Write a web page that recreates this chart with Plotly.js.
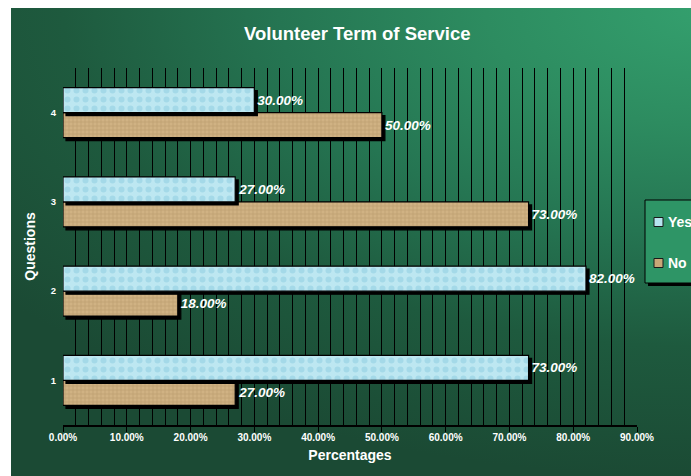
<!DOCTYPE html>
<html>
<head>
<meta charset="utf-8">
<script src="https://cdn.plot.ly/plotly-3.0.1.min.js"></script>
<style>
  html, body { margin: 0; padding: 0; background: #ffffff; }
  #wrap { position: relative; width: 691px; height: 476px; overflow: hidden; }
  #bg {
    position: absolute; left: 11px; top: 8px; width: 700px; height: 470px;
    background: radial-gradient(ellipse 900px 470px at 100% 0%, #34a06e 0%, #2d8c60 25%, #257552 48%, #1e5a3e 72%, #1b4a34 100%);
  }
  #chart { position: absolute; left: 0; top: 0; width: 691px; height: 476px; }
  .barlayer .point path { filter: drop-shadow(3px 3px 0px #000); }
</style>
</head>
<body>
<div id="wrap">
  <div id="bg"></div>
  <div id="chart"></div>
</div>
<script>
const questions = ['1', '2', '3', '4'];
const yesValues = [0.73, 0.82, 0.27, 0.30];
const noValues = [0.27, 0.18, 0.73, 0.50];
const xTicks = [0, 0.1, 0.2, 0.3, 0.4, 0.5, 0.6, 0.7, 0.8, 0.9];
const seriesNames = ['Yes', 'No'];
const seriesColors = ['#b6e4ef', '#c8a777'];

const font = 'Liberation Sans, Arial, sans-serif';
const labelFont = { family: font, size: 13.5, color: '#ffffff', weight: 'bold', style: 'italic' };

const noTrace = {
  type: 'bar', orientation: 'h', name: seriesNames[1],
  x: noValues, y: questions, showlegend: false,
  marker: {
    color: seriesColors[1],
    line: { color: '#000000', width: 1.2 },
    pattern: { shape: '+', fillmode: 'overlay', fgcolor: '#9c7f52', bgcolor: '#d0b283', size: 4, solidity: 0.25 }
  },
  text: noValues, texttemplate: '%{x:.2%}', textposition: 'outside',
  textfont: labelFont, constraintext: 'none', cliponaxis: false,
  hoverinfo: 'skip'
};
const yesTrace = {
  type: 'bar', orientation: 'h', name: seriesNames[0],
  x: yesValues, y: questions, showlegend: false,
  marker: {
    color: seriesColors[0],
    line: { color: '#000000', width: 1.2 },
    pattern: { shape: '.', fillmode: 'overlay', fgcolor: '#8ccbe0', bgcolor: '#bde7f1', size: 9, solidity: 0.35 }
  },
  text: yesValues, texttemplate: '%{x:.2%}', textposition: 'outside',
  textfont: labelFont, constraintext: 'none', cliponaxis: false,
  hoverinfo: 'skip'
};

// Custom legend (pixel -> paper conversion for plot area 63..637 x 68..425)
const PL = 63, PR = 637, PT = 68, PB = 425;
const px = v => (v - PL) / (PR - PL);
const py = v => (PB - v) / (PB - PT);
const shapes = [
  { type: 'rect', xref: 'paper', yref: 'paper', x0: px(648), x1: px(710), y0: py(203), y1: py(286),
    fillcolor: '#000000', line: { width: 0 }, layer: 'above' },
  { type: 'rect', xref: 'paper', yref: 'paper', x0: px(645), x1: px(707), y0: py(200), y1: py(283),
    fillcolor: '#2e9566', line: { color: '#000000', width: 1 }, layer: 'above' }
];
const annotations = [];
const itemY = [222, 263];
seriesNames.forEach((name, i) => {
  shapes.push({ type: 'rect', xref: 'paper', yref: 'paper',
    x0: px(654), x1: px(663), y0: py(itemY[i] - 4.5), y1: py(itemY[i] + 4.5),
    fillcolor: seriesColors[i], line: { color: '#1a1a1a', width: 1 }, layer: 'above' });
  annotations.push({ xref: 'paper', yref: 'paper', x: px(666), y: py(itemY[i]),
    xanchor: 'left', yanchor: 'middle', showarrow: false, text: name,
    font: { family: font, size: 14, color: '#ffffff', weight: 'bold' } });
});

const layout = {
  width: 691, height: 476,
  paper_bgcolor: 'rgba(0,0,0,0)', plot_bgcolor: 'rgba(0,0,0,0)',
  margin: { l: 63, r: 54, t: 68, b: 51 },
  barmode: 'group', bargap: 0.44, bargroupgap: 0,
  showlegend: false,
  shapes: shapes,
  annotations: annotations,
  title: {
    text: 'Volunteer Term of Service', xref: 'container', x: 0.517, xanchor: 'center',
    yref: 'container', y: 0.93, yanchor: 'middle',
    font: { family: font, size: 18.5, color: '#ffffff', weight: 'bold' }
  },
  xaxis: {
    range: [0, 0.9], tickvals: xTicks, tickformat: '.2%',
    showgrid: true, gridcolor: '#000000', gridwidth: 1,
    minor: { dtick: 0.02, showgrid: true, gridcolor: '#000000', gridwidth: 1 },
    ticks: 'outside', ticklen: 5, tickcolor: '#000000', tickwidth: 1,
    ticklabelstandoff: -3,
    showline: true, linecolor: '#000000', linewidth: 1.5,
    zeroline: false, automargin: false,
    tickfont: { family: font, size: 10, color: '#ffffff', weight: 'bold' },
    title: { text: 'Percentages', standoff: 8, font: { family: font, size: 14, color: '#ffffff', weight: 'bold' } },
    fixedrange: true
  },
  yaxis: {
    range: [-0.5, 3.5], type: 'category',
    showgrid: false, zeroline: false, showline: false, ticks: '',
    ticklabelstandoff: 6, automargin: false,
    tickfont: { family: font, size: 9.5, color: '#ffffff', weight: 'bold' },
    title: { text: 'Questions', standoff: 11, font: { family: font, size: 14, color: '#ffffff', weight: 'bold' } },
    fixedrange: true
  }
};

Plotly.newPlot('chart', [noTrace, yesTrace], layout, { displayModeBar: false, staticPlot: true });
</script>
</body>
</html>
